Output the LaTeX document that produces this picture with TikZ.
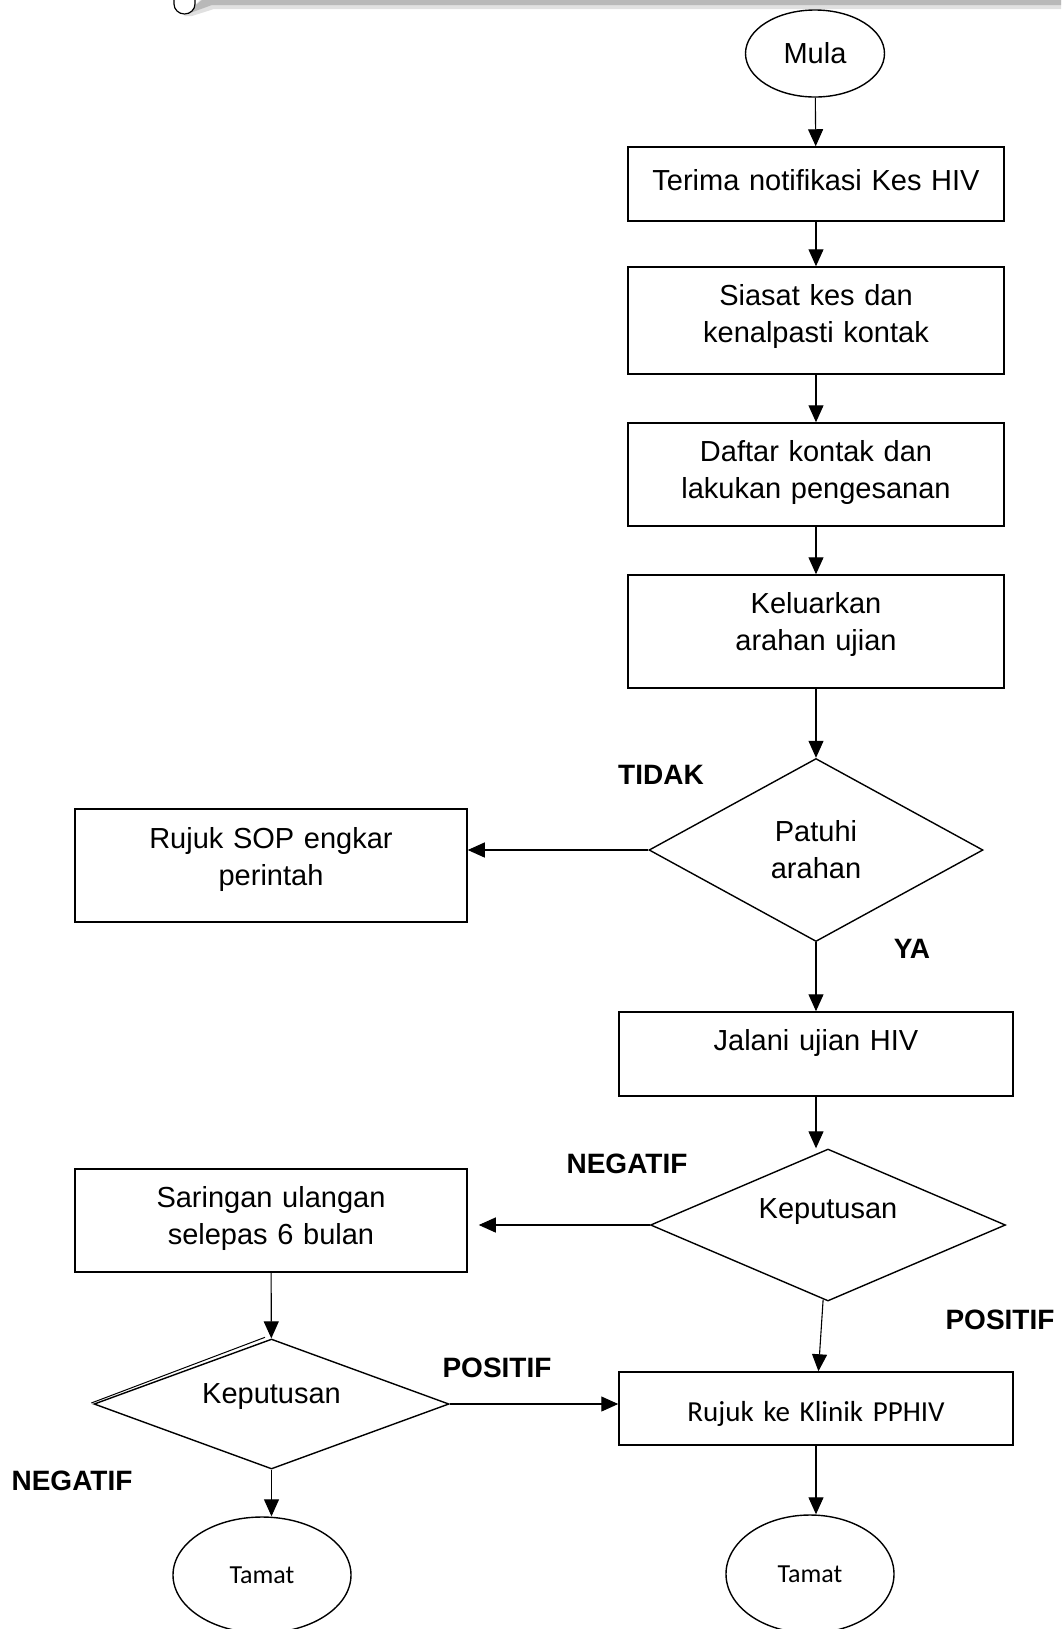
\documentclass[tikz,border=0pt]{standalone}
\usepackage{fontspec}
\setmainfont{Liberation Sans}
\newfontfamily\calibrifont{Carlito}
\usetikzlibrary{arrows.meta,shapes.geometric}

\begin{document}
\begin{tikzpicture}[x=0.5pt,y=-0.5pt,
    procbox/.style={draw,rectangle,line width=0.75pt,inner sep=0pt,align=center,
      font=\fontsize{14.5}{18.5}\selectfont,text height=19pt},
    decision/.style={draw,diamond,shape aspect=2,line width=0.7pt,inner sep=0pt,
      align=center,font=\fontsize{14.5}{18.5}\selectfont},
    terminal/.style={draw,ellipse,line width=0.7pt,inner sep=0pt},
    answer/.style={font=\fontsize{14}{16}\selectfont\bfseries}]
  \useasboundingbox (0,0) rectangle (1061,1629);

  % scroll edge at the top
  \fill[black!12] (200,0) -- (1061,0) -- (1061,9) -- (214,9) -- (192,16) -- (184,16) -- cycle;
  \fill[black!28] (202,0) -- (1061,0) -- (1061,5) -- (212,5) -- (190,13) -- (186,13) -- cycle;
  \draw[fill=white,line width=0.6pt] (174,0) -- (174,4)
    arc[start angle=180,end angle=0,x radius=10.5,y radius=10] -- (195,0);

  % main column
  \node[terminal,minimum width=69.5pt,minimum height=43.5pt,
    font=\fontsize{14.5}{18.5}\selectfont] (1) at (815,53.5) {Mula};
  \node[procbox,text width=188pt,text height=21.5pt,text depth=15.5pt] (2) at (816,184)
    {Terima notifikasi Kes HIV};
  \node[procbox,text width=188pt,text depth=34.5pt] (3) at (816,320.5)
    {Siasat kes dan\\kenalpasti kontak};
  \node[procbox,text width=188pt,text depth=32.5pt] (4) at (816,474.5)
    {Daftar kontak dan\\lakukan pengesanan};
  \node[procbox,text width=188pt,text depth=37.5pt] (5) at (816,631.5)
    {Keluarkan\\arahan ujian};
  \node[decision,minimum width=167pt,minimum height=91.5pt] (6) at (816,850)
    {Patuhi\\arahan};
  \node[procbox,text width=196pt,text height=19.5pt,text depth=37pt] (7) at (271,865.5)
    {Rujuk SOP engkar\\perintah};
  \node[procbox,text width=197pt,text depth=23pt] (8) at (816,1054)
    {Jalani ujian HIV};
  \node[decision,minimum width=177.5pt,minimum height=76pt,
    text height=10pt,text depth=17pt] (9) at (828,1225) {Keputusan};
  \node[procbox,text width=196pt,text depth=32.5pt] (10) at (271,1220.5)
    {Saringan ulangan\\selepas 6 bulan};
  \node[decision,minimum width=177.5pt,minimum height=65pt,
    text height=10pt,text depth=10.5pt] (11) at (271.5,1404) {Keputusan};
  \node[procbox,text width=197pt,text height=24.5pt,text depth=12pt,
    font=\calibrifont\fontsize{14.5}{18.5}\selectfont] (12) at (816,1408.5)
    {Rujuk ke Klinik PPHIV};
  \node[terminal,minimum width=89pt,minimum height=58pt,
    font=\calibrifont\fontsize{13}{16}\selectfont] (13) at (262,1575) {Tamat};
  \node[terminal,minimum width=84pt,minimum height=59pt,
    font=\calibrifont\fontsize{13}{16}\selectfont] (14) at (810,1574) {Tamat};

  % second line on the upper left side
  \draw[line width=0.5pt] ([shift={(-2,-1)}]11.west) -- ([shift={(-6.5,-1)}]11.north);

  % answers
  \node[answer] (15) at (661,775) {TIDAK};
  \node[answer] (16) at (912,949) {YA};
  \node[answer] (17) at (627,1164) {NEGATIF};
  \node[answer] (18) at (1000,1320) {POSITIF};
  \node[answer] (19) at (497,1368) {POSITIF};
  \node[answer] (20) at (72,1481) {NEGATIF};

  \begin{scope}[>={Triangle[length=8.5pt,width=7.5pt]},
      every edge/.style={draw,line width=0.55pt}]
    \path [->] (1) edge (2);
    \path [->] (2) edge (3);
    \path [->] (3) edge (4);
    \path [->] (4) edge (5);
    \path [->] (5) edge (6);
    \path [->] (6.west) edge (6.west -| 7.east);
    \path [->] (6) edge (8);
    \path [->] (8.south) edge (8.south |- 9.north);
    \path [->] (9.west) edge[shorten >=5.5pt] (9.west -| 10.east);
    \path [->] (9) edge (12);
    \path [->] (10) edge (11);
    \path [->] (11.east) edge (11.east -| 12.west);
    \path [->] (11.south) edge (11.south |- 13.north);
    \path [->] (12.south) edge (12.south |- 14.north);
  \end{scope}
\end{tikzpicture}
\end{document}
